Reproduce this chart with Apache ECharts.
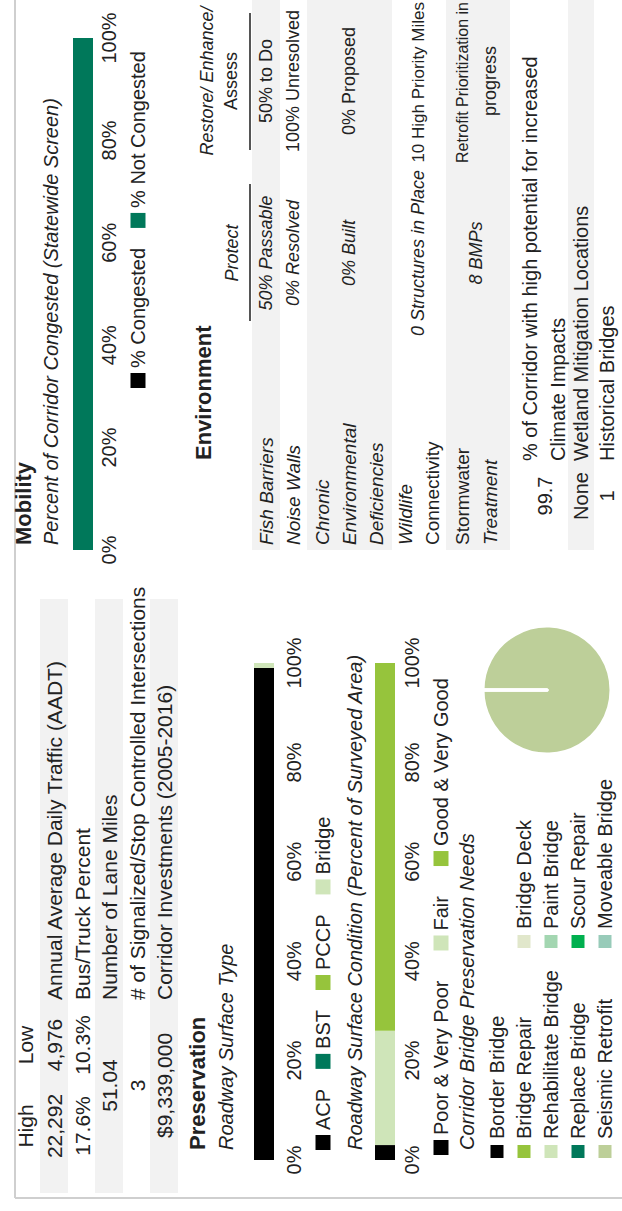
<!DOCTYPE html>
<html><head><meta charset="utf-8">
<script src="https://cdn.jsdelivr.net/npm/echarts@6/dist/echarts.min.js"></script>
<style>
html,body{margin:0;padding:0;width:622px;height:1211px;overflow:hidden;background:#fff;}
#chart{position:absolute;left:0;top:0;width:1211px;height:622px;transform-origin:0 0;transform:translate(0,1211px) rotate(-90deg);}
</style></head><body><div id="chart"></div>
<script>
// ---------- data ----------
const pctTicks = [0, 20, 40, 60, 80, 100];
const mobilitySeries = ['% Congested', '% Not Congested'];
const mobilityValues = [0, 100];
const surfaceTypes = ['ACP', 'BST', 'PCCP', 'Bridge'];
const surfaceTypeValues = [99, 0, 0, 1];
const conditionTypes = ['Poor & Very Poor', 'Fair', 'Good & Very Good'];
const conditionValues = [3, 23, 74];
const bridgeNeeds = ['Border Bridge', 'Bridge Repair', 'Rehabilitate Bridge', 'Replace Bridge', 'Seismic Retrofit',
  'Bridge Deck', 'Paint Bridge', 'Scour Repair', 'Moveable Bridge'];
const bridgeNeedValues = [0, 0, 0, 0, 1, 0, 0, 0, 0];

const tableHeaders = ['High', 'Low'];
const tableHigh = ['22,292', '17.6%', '51.04', '3', '$9,339,000'];
const tableLow = ['4,976', '10.3%', null, null, null];
const tableLabels = ['Annual Average Daily Traffic (AADT)', 'Bus/Truck Percent', 'Number of Lane Miles',
  '# of Signalized/Stop Controlled Intersections', 'Corridor Investments (2005-2016)'];

const envHeaders = [['Protect'], ['Restore/ Enhance/', 'Assess']];
const envLabels = [['Fish Barriers'], ['Noise Walls'], ['Chronic', 'Environmental', 'Deficiencies'],
  ['Wildlife', 'Connectivity'], ['Stormwater', 'Treatment']];
const envProtect = ['50% Passable', '0% Resolved', '0% Built', '0 Structures in Place', '8 BMPs'];
const envRestore = [['50% to Do'], ['100% Unresolved'], ['0% Proposed'], ['10 High Priority Miles'],
  ['Retrofit Prioritization in', 'progress']];
const extraValues = ['99.7', 'None', '1'];
const extraLabels = [['% of Corridor with high potential for increased', 'Climate Impacts'],
  ['Wetland Mitigation Locations'], ['Historical Bridges']];

// ---------- colours ----------
const C = {
  black: '#000000', teal: '#00785a', lime: '#96c43c', pale: '#cfe5b9', olive: '#bdcf99',
  deck: '#e1e7cb', paint: '#a3d6b1', scour: '#00b04f', move: '#98cbb9', band: '#f2f2f2', text: '#222222'
};
const mobilityColors = [C.black, C.teal];
const surfaceColors = [C.black, C.teal, C.lime, C.pale];
const conditionColors = [C.black, C.pale, C.lime];
const bridgeColors = [C.black, C.lime, C.pale, C.teal, C.olive, C.deck, C.paint, C.scour, C.move];

const FF = '"Liberation Sans", Arial, Helvetica, sans-serif';
const W = 1211;

// ---------- helpers ----------
const measureCtx = document.createElement('canvas').getContext('2d');
function textWidth(text, o, size) {
  measureCtx.font = (o.italic ? 'italic ' : '') + (o.bold ? 'bold ' : '') + size + 'px ' + FF;
  return measureCtx.measureText(text).width;
}
function txt(text, x, y, o) {
  o = o || {};
  let size = o.size || 20;
  // centred texts in a bounded cell: shrink to fit the cell
  if (o.align === 'center' && o.cell) {
    const avail = o.cell[1] - o.cell[0];
    let w = textWidth(text, o, size);
    if (w > avail) { size = Math.floor(size * avail / w * 10) / 10; w = textWidth(text, o, size); }
    if (x + w / 2 > o.cell[1]) x = o.cell[1] - w / 2;
    if (x - w / 2 < o.cell[0]) x = o.cell[0] + w / 2;
  }
  return {
    type: 'text', x: x, y: y, silent: true, z: 10,
    style: {
      text: text, fill: o.color || C.text, fontFamily: FF, fontSize: size,
      fontStyle: o.italic ? 'italic' : 'normal', fontWeight: o.bold ? 'bold' : 'normal',
      textAlign: o.align || 'left', textVerticalAlign: 'middle'
    }
  };
}
function rect(x, y, w, h, color) {
  return { type: 'rect', silent: true, z: -5, shape: { x: x, y: y, width: w, height: h }, style: { fill: color } };
}
function line(x1, y1, x2, y2, color, w) {
  return { type: 'line', silent: true, z: 5, shape: { x1: x1, y1: y1, x2: x2, y2: y2 }, style: { stroke: color, lineWidth: w } };
}

const graphics = [];
// border
graphics.push(line(13, 15, W, 15, '#cfcfcf', 2));
graphics.push(line(13, 15, 13, 622, '#cfcfcf', 2));

// ---------- left table ----------
const tRowY = [54, 82, 109, 137, 164];
const highX = 85, lowX = 166, labelX = 211;
[0, 2, 4].forEach(function (i) { graphics.push(rect(18, tRowY[i] - 14, 594, 28, C.band)); });
graphics.push(txt(tableHeaders[0], highX, 25, { align: 'center', size: 21 }));
graphics.push(txt(tableHeaders[1], lowX, 25, { align: 'center', size: 21 }));
tableHigh.forEach(function (v, i) {
  if (tableLow[i] === null) {
    graphics.push(txt(v, (highX + lowX) / 2, tRowY[i], { align: 'center', size: 21 }));
  } else {
    graphics.push(txt(v, highX, tRowY[i], { align: 'center', size: 21 }));
    graphics.push(txt(tableLow[i], lowX, tRowY[i], { align: 'center', size: 21 }));
  }
  graphics.push(txt(tableLabels[i], labelX, tRowY[i], { size: 21 }));
});

// ---------- section titles ----------
graphics.push(txt('Preservation', 61, 197, { bold: true, size: 22 }));
graphics.push(txt('Roadway Surface Type', 61, 226, { italic: true }));
graphics.push(txt('Roadway Surface Condition (Percent of Surveyed Area)', 61, 355, { italic: true }));
graphics.push(txt('Corridor Bridge Preservation Needs', 61, 467, { italic: true }));
graphics.push(txt('Mobility', 666, 23, { bold: true, size: 22 }));
graphics.push(txt('Percent of Corridor Congested (Statewide Screen)', 666, 51, { italic: true }));
graphics.push(txt('Environment', 751, 203, { bold: true, size: 22 }));

// ---------- environment table ----------
const envLabelX = 666, protectX = 958, restoreX = 1130;
const protectCell = [872, 1044], restoreCell = [1048, 1209];
const ES = 18;
const envBands = [[252, 28], [307, 85], [446, 64], [568, 26]];
envBands.forEach(function (b) { graphics.push(rect(661, b[0], 550, b[1], C.band)); });
graphics.push(txt(envHeaders[0][0], protectX, 232, { italic: true, size: ES, align: 'center', cell: protectCell }));
graphics.push(txt(envHeaders[1][0], restoreX, 207, { italic: true, size: ES, align: 'center', cell: restoreCell }));
graphics.push(txt(envHeaders[1][1], restoreX, 231, { size: ES, align: 'center', cell: restoreCell }));
graphics.push(line(890, 250, 1027, 250, '#555555', 2));
graphics.push(line(1061, 250, 1198, 250, '#555555', 2));
const envLineY = [[266], [293], [322, 349, 376], [405, 432], [462, 490]];
const envValY = [266, 293, 349, 418, 476];
envLabels.forEach(function (lines, i) {
  lines.forEach(function (t, j) {
    graphics.push(txt(t, envLabelX, envLineY[i][j], { italic: !(i === 3 && j === 1) && !(i === 4 && j === 0), size: 19 }));
  });
  graphics.push(txt(envProtect[i], protectX, envValY[i], { italic: true, size: ES, align: 'center', cell: protectCell }));
  const r = envRestore[i];
  if (r.length === 1) {
    graphics.push(txt(r[0], restoreX, envValY[i], { size: ES, align: 'center', cell: restoreCell }));
  } else {
    r.forEach(function (t, j) { graphics.push(txt(t, restoreX, envLineY[i][j], { size: ES, align: 'center', cell: restoreCell })); });
  }
});
const extraValY = [545, 581, 607];
const extraLineY = [[530, 558], [581], [607]];
extraValues.forEach(function (v, i) {
  graphics.push(txt(v, 715, extraValY[i], { size: 20, align: 'center' }));
  extraLabels[i].forEach(function (t, j) {
    graphics.push(txt(t, 750, extraLineY[i][j], { size: 20 }));
  });
});

// ---------- axes ----------
function valueAxis(idx, margin) {
  return {
    type: 'value', gridIndex: idx, min: pctTicks[0], max: pctTicks[pctTicks.length - 1],
    interval: pctTicks[1] - pctTicks[0], position: 'bottom',
    axisLine: { show: false }, axisTick: { show: false }, splitLine: { show: false },
    axisLabel: { formatter: '{value}%', fontSize: 20, color: C.text, fontFamily: FF, margin: margin }
  };
}
function catAxis(idx) {
  return { type: 'category', gridIndex: idx, data: ['Corridor'], show: false };
}
function stackSeries(names, values, colors, idx) {
  return names.map(function (n, i) {
    return {
      name: n, type: 'bar', stack: 's' + idx, xAxisIndex: idx, yAxisIndex: idx,
      data: [values[i]], barWidth: 20, itemStyle: { color: colors[i] }, silent: true
    };
  });
}

const legendBase = {
  icon: 'rect', itemWidth: 15, itemHeight: 15, orient: 'horizontal', selectedMode: false, padding: 0,
  textStyle: { fontSize: 20, color: C.text, fontFamily: FF }
};

const option = {
  backgroundColor: '#ffffff',
  animation: false,
  grid: [
    { left: 661, top: 73, width: 512, height: 20 },
    { left: 51, top: 254, width: 497, height: 20 },
    { left: 51, top: 375, width: 497, height: 20 }
  ],
  xAxis: [valueAxis(0, 6), valueAxis(1, 10), valueAxis(2, 7)],
  yAxis: [catAxis(0), catAxis(1), catAxis(2)],
  legend: [
    Object.assign({}, legendBase, { data: mobilitySeries, left: 823, top: 128, itemGap: 20 }),
    Object.assign({}, legendBase, { data: surfaceTypes, left: 61, top: 313, itemGap: 20 }),
    Object.assign({}, legendBase, { data: conditionTypes, left: 56, top: 431, itemGap: 30 }),
    Object.assign({}, legendBase, { data: bridgeNeeds.slice(0, 5), left: 51, top: 487, height: 135, orient: 'vertical', itemGap: 7 }),
    Object.assign({}, legendBase, { data: bridgeNeeds.slice(5), left: 261, top: 514, height: 108, orient: 'vertical', itemGap: 7 })
  ],
  series: [].concat(
    stackSeries(mobilitySeries, mobilityValues, mobilityColors, 0),
    stackSeries(surfaceTypes, surfaceTypeValues, surfaceColors, 1),
    stackSeries(conditionTypes, conditionValues, conditionColors, 2),
    [{
      type: 'pie', name: 'Bridge Needs', center: [521, 547], radius: 64, startAngle: 90, clockwise: true,
      label: { show: false }, labelLine: { show: false }, silent: true,
      itemStyle: { borderColor: '#ffffff', borderWidth: 3 },
      data: bridgeNeeds.map(function (n, i) {
        return { name: n, value: bridgeNeedValues[i], itemStyle: { color: bridgeColors[i] } };
      })
    }]
  ),
  graphic: graphics
};

const chart = echarts.init(document.getElementById('chart'), null, { renderer: 'svg', width: 1211, height: 622 });
chart.setOption(option);
</script>
</body></html>
